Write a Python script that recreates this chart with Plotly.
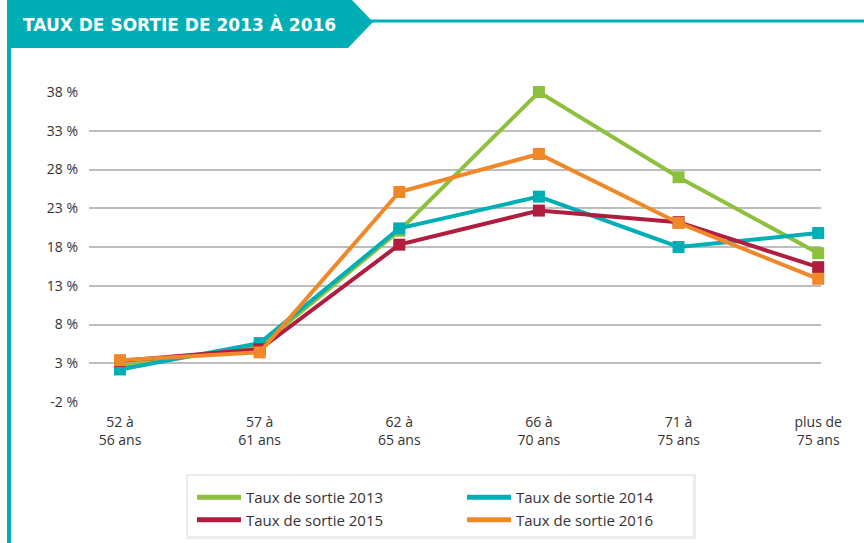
import plotly.graph_objects as go

categories = ['52 à<br>56 ans', '57 à<br>61 ans', '62 à<br>65 ans',
              '66 à<br>70 ans', '71 à<br>75 ans', 'plus de<br>75 ans']
taux_2013 = [2.6, 5.2, 20.1, 38.0, 27.0, 17.2]
taux_2014 = [2.2, 5.6, 20.4, 24.5, 18.0, 19.8]
taux_2015 = [3.3, 4.8, 18.3, 22.7, 21.2, 15.4]
taux_2016 = [3.4, 4.4, 25.1, 30.0, 21.1, 13.9]
y_ticks = [-2, 3, 8, 13, 18, 23, 28, 33, 38]
y_labels = [f'{v} %' for v in y_ticks]

W, H = 864, 543
L, R, T, B = 89, 43, 92, 141
pw, ph = W - L - R, H - T - B


def px(x):
    return (x - L) / pw


def py(y):
    return (H - B - y) / ph


teal = '#00aeb5'
fig = go.Figure()

series = [
    ('Taux de sortie 2013', taux_2013, '#8dc03d', 'legend'),
    ('Taux de sortie 2014', taux_2014, '#00aeb5', 'legend2'),
    ('Taux de sortie 2015', taux_2015, '#b01d3e', 'legend'),
    ('Taux de sortie 2016', taux_2016, '#f0882a', 'legend2'),
]
for name, vals, col, leg in series:
    fig.add_trace(go.Scatter(
        x=categories, y=vals, name=name, mode='lines+markers',
        line=dict(color=col, width=4),
        marker=dict(symbol='square', size=12, color=col),
        cliponaxis=False, showlegend=False))
    # legend entry with a plain line sample
    fig.add_trace(go.Scatter(
        x=[None], y=[None], name=name, mode='lines',
        line=dict(color=col, width=5), legend=leg, legendgroup=name))

# banner, frame lines and legend box
shapes = [
    dict(type='path', xref='paper', yref='paper',
         path=f'M {px(7)},{py(0)} L {px(352)},{py(0)} L {px(373)},{py(22)} '
              f'L {px(348)},{py(48)} L {px(7)},{py(48)} Z',
         fillcolor=teal, line=dict(width=0), layer='above'),
    dict(type='line', xref='paper', yref='paper', x0=px(370), x1=px(864),
         y0=py(21), y1=py(21), line=dict(color=teal, width=3)),
    dict(type='line', xref='paper', yref='paper', x0=px(9), x1=px(9),
         y0=py(47), y1=py(543), line=dict(color=teal, width=4)),
    dict(type='rect', xref='paper', yref='paper', x0=px(186), x1=px(696),
         y0=py(539), y1=py(474), fillcolor='#ececec', line=dict(width=0)),
    dict(type='rect', xref='paper', yref='paper', x0=px(188), x1=px(693),
         y0=py(536), y1=py(476), fillcolor='white', line=dict(width=0)),
]

fig.update_layout(
    width=W, height=H,
    margin=dict(l=L, r=R, t=T, b=B, autoexpand=False),
    paper_bgcolor='white', plot_bgcolor='white',
    font=dict(family='Open Sans', size=14, color='#333333'),
    shapes=shapes,
    annotations=[dict(text='<b>TAUX DE SORTIE DE 2013 À 2016</b>',
                      xref='paper', yref='paper', x=px(21), y=py(24),
                      xanchor='left', yanchor='middle', showarrow=False,
                      font=dict(family='DejaVu Sans', size=17, color='white'))],
    xaxis=dict(range=[-0.222, 5.02], showgrid=False, zeroline=False,
               showline=False, ticks='', tickfont=dict(size=14),
               ticklabelstandoff=10),
    yaxis=dict(range=[-2, 38], tickvals=y_ticks, ticktext=y_labels,
               showgrid=True, gridcolor='#bdbdbd', gridwidth=1.5,
               zeroline=False, showline=False, ticklabelstandoff=10,
               tickfont=dict(size=14)),
    legend=dict(x=px(192), y=py(481), xanchor='left', yanchor='top',
                bgcolor='rgba(0,0,0,0)', font=dict(size=15), itemwidth=44,
                tracegroupgap=0),
    legend2=dict(x=px(462), y=py(481), xanchor='left', yanchor='top',
                 bgcolor='rgba(0,0,0,0)', font=dict(size=15), itemwidth=44,
                 tracegroupgap=0),
)

fig.write_html('out.html', config={'displayModeBar': False},
               post_script="document.body.style.margin='0';")
